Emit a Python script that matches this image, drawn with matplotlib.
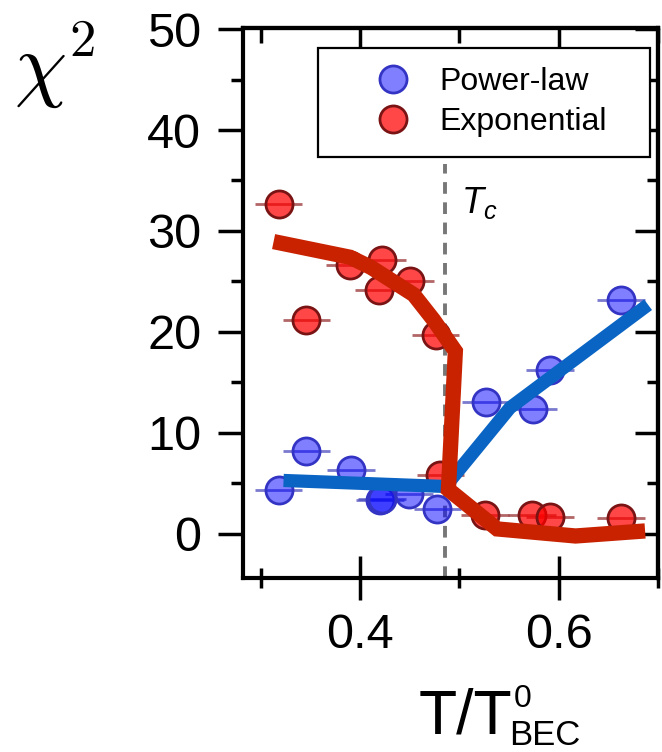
import matplotlib
matplotlib.use("Agg")
import matplotlib.pyplot as plt
from matplotlib.lines import Line2D
from matplotlib.offsetbox import DrawingArea

plt.rcParams['font.family'] = ['Liberation Sans', 'DejaVu Sans']
plt.rcParams['mathtext.fontset'] = 'custom'
plt.rcParams['mathtext.rm'] = 'Liberation Sans'
plt.rcParams['mathtext.it'] = 'Liberation Sans:italic'
plt.rcParams['mathtext.bf'] = 'Liberation Sans:bold'

# ---------------- data ----------------
T_power = [0.318, 0.346, 0.391, 0.420, 0.422, 0.449, 0.478, 0.527, 0.574, 0.591, 0.663]
chi_power = [4.4, 8.2, 6.3, 3.4, 3.5, 4.0, 2.5, 13.1, 12.4, 16.2, 23.2]
xerr_power = [0.024, 0.024, 0.024, 0.024, 0.024, 0.024, 0.024, 0.024, 0.024, 0.024, 0.024]

T_exp = [0.318, 0.346, 0.390, 0.422, 0.419, 0.450, 0.476, 0.481, 0.526, 0.573, 0.591, 0.663]
chi_exp = [32.7, 21.2, 26.6, 27.1, 24.2, 25.0, 19.7, 5.8, 1.9, 1.9, 1.7, 1.55]
xerr_exp = [0.024, 0.024, 0.024, 0.024, 0.024, 0.024, 0.024, 0.024, 0.024, 0.024, 0.024, 0.024]

T_power_line = [0.323, 0.486, 0.551, 0.690]
chi_power_line = [5.3, 4.7, 12.5, 22.7]

T_exp_line = [0.313, 0.390, 0.411, 0.454, 0.474, 0.496, 0.489, 0.538, 0.617, 0.687]
chi_exp_line = [28.95, 27.4, 26.4, 23.7, 21.2, 18.1, 4.4, 0.5, -0.2, 0.3]

T_c = 0.4855
T_c_top = 36.6

x_major = [0.4, 0.6]
x_major_labels = ['0.4', '0.6']
x_minor = [0.3, 0.5, 0.7]
y_major = [0, 10, 20, 30, 40, 50]
y_minor = [5, 15, 25, 35, 45]
labels = ['Power-law', 'Exponential']

# ---------------- figure ----------------
W, H = 662, 752
fig = plt.figure(figsize=(W / 100, H / 100), dpi=100)
L, R, TOP, BOT = 243, 658, 28, 578
ax = fig.add_axes([L / W, 1 - BOT / H, (R - L) / W, (BOT - TOP) / H])


def fx(px):
    return px / W


def fy(py):
    return 1 - py / H


xlim = (0.2822, 0.7)
ylim = (-4.36, 50.1)
ax.set_xlim(*xlim)
ax.set_ylim(*ylim)

blue_face = (0.0, 0.0, 1.0, 0.5)
blue_edge = '#3434C4'
red_face = (1.0, 0.0, 0.0, 0.72)
red_edge = '#7A1414'

# Tc dashed line
ax.plot([T_c, T_c], [ylim[0], T_c_top], color='#777777', lw=2.8,
        dashes=(3.0, 2.2), zorder=2)

ax.errorbar(T_power, chi_power, xerr=xerr_power, fmt='o', ms=19.5,
            mfc=blue_face, mec=blue_edge, mew=2,
            ecolor=(0.3, 0.3, 0.75, 0.75), elinewidth=2, capsize=0, zorder=3)
ax.errorbar(T_exp, chi_exp, xerr=xerr_exp, fmt='o', ms=19.5,
            mfc=red_face, mec=red_edge, mew=2,
            ecolor=(0.6, 0.2, 0.2, 0.75), elinewidth=2, capsize=0, zorder=3)

ax.plot(T_power_line, chi_power_line, color='#0A64C4', lw=9.5,
        solid_capstyle='butt', solid_joinstyle='miter', zorder=4)
ax.plot(T_exp_line, chi_exp_line, color='#C82200', lw=11,
        solid_capstyle='butt', solid_joinstyle='miter', zorder=5)

ax.text(0.502, 31.8, r'$T_c$', fontsize=26, ha='left', va='baseline')

# spines / ticks
for s in ax.spines.values():
    s.set_linewidth(3)

ax.set_xticks(x_major)
ax.set_xticklabels(x_major_labels)
ax.set_xticks(x_minor, minor=True)
ax.set_yticks(y_major)
ax.set_yticks(y_minor, minor=True)

ax.tick_params(axis='y', which='major', direction='out', length=18, width=2.5,
               labelsize=35, pad=12)
ax.tick_params(axis='y', which='minor', direction='out', length=9, width=2.5)
ax.tick_params(axis='x', which='major', direction='inout', length=31, width=2.5,
               labelsize=35, pad=10)
ax.tick_params(axis='x', which='minor', direction='inout', length=14, width=2.5)

secx = ax.secondary_xaxis('top')
secx.set_xticks(x_major)
secx.set_xticks(x_minor, minor=True)
secx.tick_params(axis='x', which='major', direction='in', length=14, width=2.5,
                 labeltop=False)
secx.tick_params(axis='x', which='minor', direction='in', length=11, width=2.5)
secx.spines['top'].set_linewidth(3)

secy = ax.secondary_yaxis('right')
secy.set_yticks(y_major)
secy.set_yticks(y_minor, minor=True)
secy.tick_params(axis='y', which='major', direction='in', length=16.5, width=2.5,
                 labelright=False)
secy.tick_params(axis='y', which='minor', direction='in', length=8, width=2.5)
secy.spines['right'].set_linewidth(3)

# x label: T/T^0_BEC composed of pieces
fig.text(fx(419), fy(734), 'T/T', fontsize=45, ha='left', va='baseline')
fig.text(fx(514), fy(707), '0', fontsize=23, ha='left', va='baseline')
fig.text(fx(509), fy(745), 'BEC', fontsize=25, ha='left', va='baseline')

# y label: chi^2
fig.text(fx(14), fy(91), r'$\chi$', fontsize=60, ha='left', va='baseline',
         math_fontfamily='cm')
fig.text(fx(69), fy(56), r'$2$', fontsize=38, ha='left', va='baseline',
         math_fontfamily='cm')

# legend
handles = [
    Line2D([], [], marker='o', ls='none', ms=19.5, mfc=blue_face, mec=blue_edge, mew=2),
    Line2D([], [], marker='o', ls='none', ms=19.5, mfc=red_face, mec=red_edge, mew=2),
]
leg = ax.legend(handles, labels, loc='upper right', bbox_to_anchor=(0.981, 0.9636),
                borderaxespad=0, fontsize=23, frameon=True, fancybox=False,
                framealpha=1, edgecolor='black', borderpad=0.6, labelspacing=0.32,
                handlelength=3.5, handletextpad=-0.3)
leg.get_frame().set_linewidth(1.6)
leg.set_zorder(6)
# extra right padding inside the legend box
for col in leg._legend_handle_box.get_children():
    for item in col.get_children():
        spacer = DrawingArea(24, 1, 0, 0)
        spacer.set_figure(fig)
        item.get_children().append(spacer)

fig.savefig('out.png', dpi=100)
